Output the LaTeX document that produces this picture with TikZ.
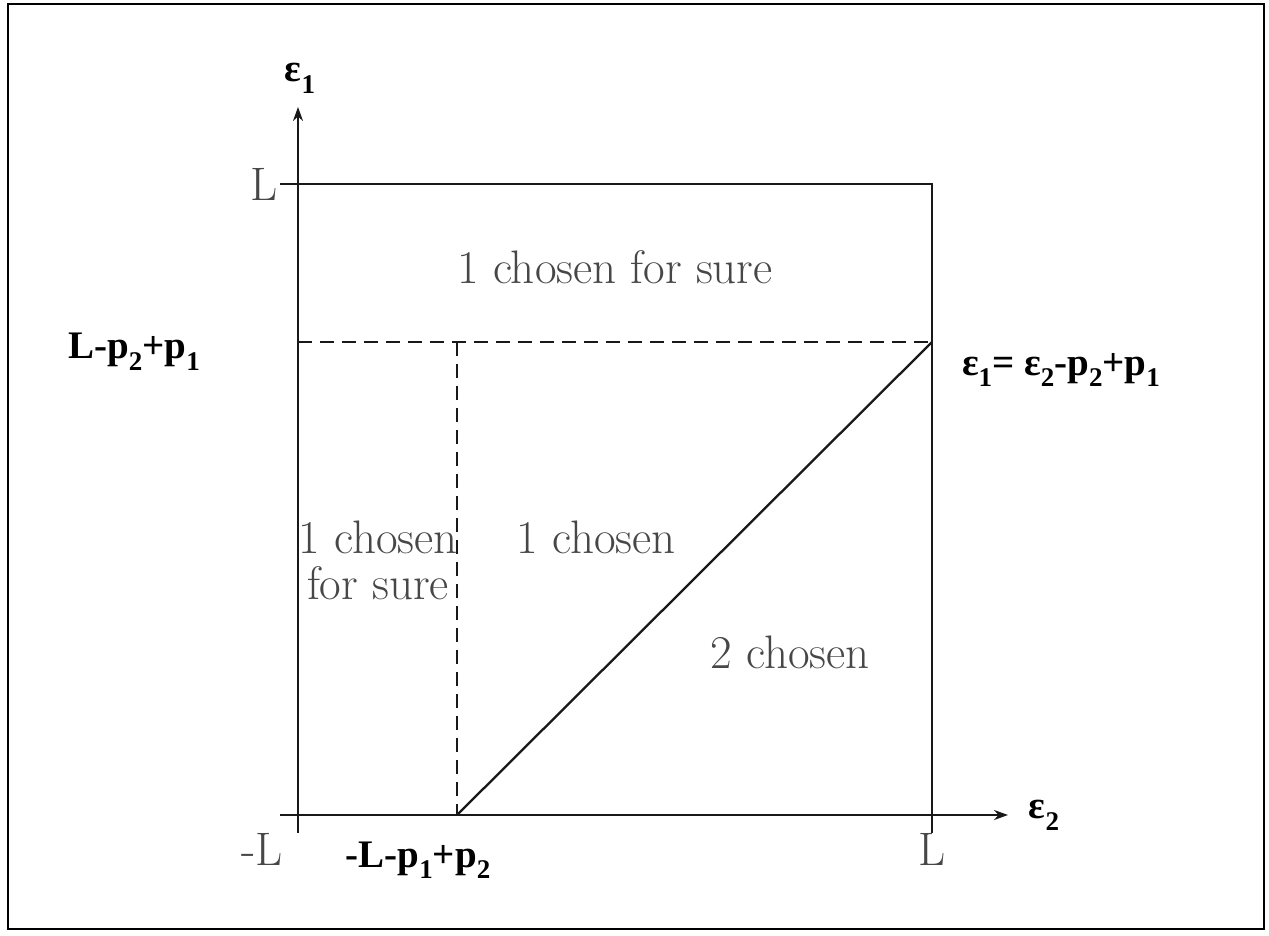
\documentclass[tikz,border=0pt]{standalone}
\usepackage{fontspec}
\newfontfamily\tnr{LiberationSerif}[Extension=.ttf, UprightFont=*-Bold, BoldFont=*-Bold]
\usetikzlibrary{arrows.meta}
\newcommand{\sbx}[1]{\raisebox{-0.3em}{\fontsize{13.5}{13.5}\selectfont #1}}
\begin{document}
\begin{tikzpicture}[x=0.5pt,y=-0.5pt,
  ln/.style={line width=1.15pt, draw=black!90},
  dsh/.style={ln, dash pattern=on 7pt off 4pt},
  lm/.style={text=black!72, font=\fontsize{23.5}{23}\selectfont, inner sep=0},
  tb/.style={text=black, font=\fontsize{19.5}{21}\tnr, inner sep=0},
  ax/.style={ln, -{Stealth[length=7pt,width=5pt]}}]
\useasboundingbox (0,0) rectangle (1269,936);
\draw[line width=1pt] (8,4) rectangle (1264,929);
% coordinates
\coordinate (vb) at (298,833);
\coordinate (vt) at (298,107);
\coordinate (hl) at (280,815);
\coordinate (hr) at (1008,815);
\coordinate (tl) at (280,184);
\coordinate (tr) at (932,184);
\coordinate (br) at (932,833);
\coordinate (dl) at (298,342);
\coordinate (dr) at (932,342);
\coordinate (dt) at (457,342);
\coordinate (db) at (457,815);
% axes
\draw[ax] (vb) -- (vt);
\draw[ax] (hl) -- (hr);
% box
\draw[ln] (tl) -- (tr) -- (br);
% dashed
\draw[dsh] (dl) -- (dr);
\draw[dsh] (dt) -- (db);
% diagonal
\draw[ln] (db) -- (dr);
% labels
\node[tb] (e1) at (300,78) {ε\sbx{1}};
\node[tb] (e2) at (1044,815) {ε\sbx{2}};
\node[lm] (Lt) at (264,184) {L};
\node[tb] (lp) at (134,352) {L-p\sbx{2}+p\sbx{1}};
\node[tb] (eq) at (1061,370) {ε\sbx{1}= ε\sbx{2}-p\sbx{2}+p\sbx{1}};
\node[lm, anchor=base] (mL) at (262,865) {-L};
\node[lm, anchor=base] (Lb) at (932,865) {L};
\node[tb, anchor=base] (lpp) at (418,867) {-L-p\sbx{1}+p\sbx{2}};
\node[lm] (s1) at (615,267) {1 chosen for sure};
\node[lm] (c1) at (596,537) {1 chosen};
\node[lm] (c2) at (790,652) {2 chosen};
\node[lm, align=center] (s2) at (378,560) {1 chosen\\for sure};
\end{tikzpicture}
\end{document}
